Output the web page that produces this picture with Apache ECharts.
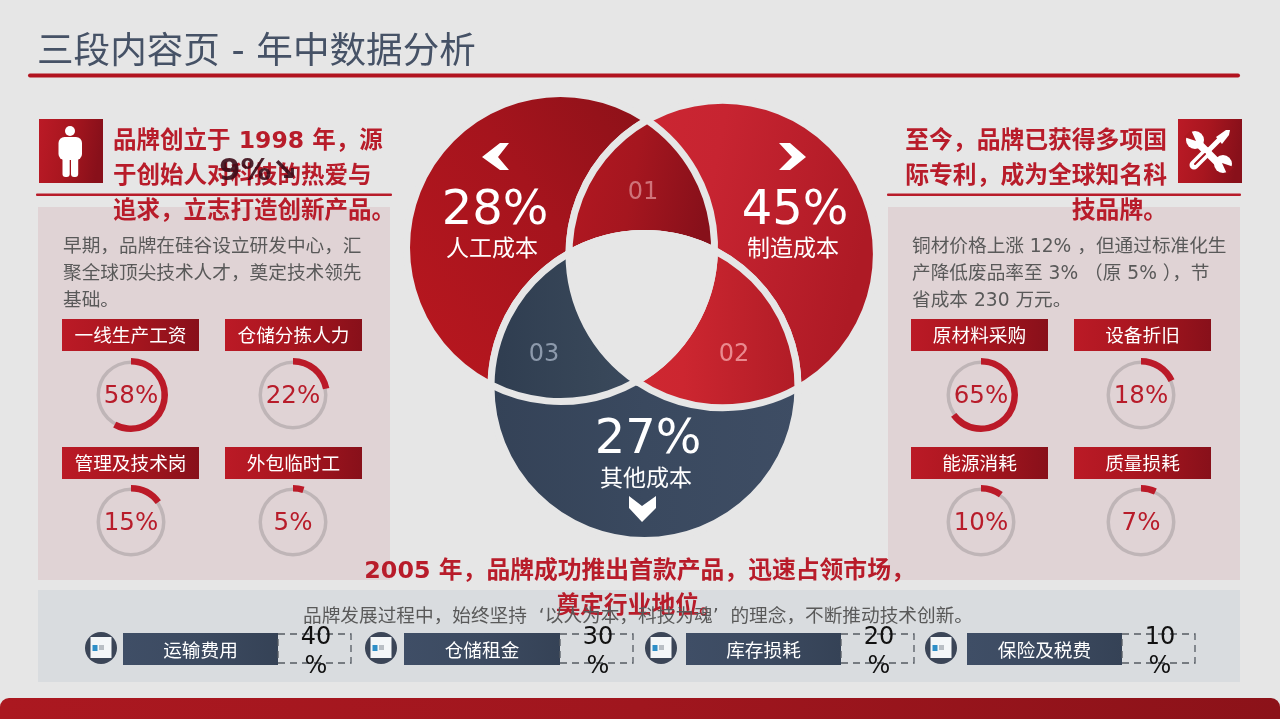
<!DOCTYPE html>
<html>
<head>
<meta charset="utf-8">
<style>
html, body { margin: 0; padding: 0; background: #e6e6e6; }
#chart { width: 1280px; height: 719px; }
</style>
<script src="https://cdn.jsdelivr.net/npm/echarts@6/dist/echarts.min.js"></script>
</head>
<body>
<div id="chart"></div>
<script>
'use strict';

var leftLabels = ['一线生产工资', '仓储分拣人力', '管理及技术岗', '外包临时工'];
var leftValues = [58, 22, 15, 5];
var rightLabels = ['原材料采购', '设备折旧', '能源消耗', '质量损耗'];
var rightValues = [65, 18, 10, 7];
var vennLabels = ['人工成本', '制造成本', '其他成本'];
var vennValues = [28, 45, 27];
var vennIndex = ['01', '02', '03'];
var bottomLabels = ['运输费用', '仓储租金', '库存损耗', '保险及税费'];
var bottomValues = [40, 30, 20, 10];

var FONT = '"DejaVu Sans", "Noto Sans CJK SC", sans-serif';
var BG = '#e6e6e6';
var RED_TEXT = '#b81c2a';
var GREY_TEXT = '#595959';

var myChart = echarts.init(document.getElementById('chart'), null, { renderer: 'canvas' });
var elements = [];
var series = [];

function grad(stops, x2, y2, y1) {
    var list = [];
    for (var i = 0; i < stops.length; i++) {
        list.push({ offset: i / (stops.length - 1), color: stops[i] });
    }
    return new echarts.graphic.LinearGradient(0, y1 || 0, x2 === undefined ? 1 : x2, y2 || 0, list);
}

function redBox() {
    return grad(['#bb1a26', '#a8161f', '#88101a'], 1, 0.15);
}

function text(x, y, str, size, color, align, weight, lineHeight) {
    elements.push({
        type: 'text',
        silent: true,
        z: 5,
        style: {
            x: x,
            // canvas middle sits a little high against the reference
            y: y + 1 + size * 0.08,
            text: str,
            fill: color,
            font: (weight || 'normal') + ' ' + size + 'px ' + FONT,
            align: align || 'left',
            verticalAlign: 'middle',
            lineHeight: lineHeight || size * 1.2
        }
    });
}

function rect(x, y, w, h, fill, r, z) {
    elements.push({
        type: 'rect',
        silent: true,
        z: z || 1,
        shape: { x: x, y: y, width: w, height: h, r: r || 0 },
        style: { fill: fill }
    });
}

function poly(points, fill, z) {
    elements.push({
        type: 'polygon',
        silent: true,
        z: z || 4,
        shape: { points: points },
        style: { fill: fill }
    });
}

function line(x1, y1, x2, y2, w, color, z) {
    elements.push({
        type: 'line',
        silent: true,
        z: z || 4,
        shape: { x1: x1, y1: y1, x2: x2, y2: y2 },
        style: { stroke: color, lineWidth: w, lineCap: 'round' }
    });
}

// page frame
rect(28, 73.5, 1212, 4, '#b2131f', 2);
rect(0, 698, 1280, 30, grad(['#ab1820', '#a0161e', '#8c1219']), 9);
rect(38, 207, 352, 373, '#e0d3d5');
rect(888, 207, 352, 373, '#e0d3d5');
rect(38, 590, 1202, 92, '#d9dcdf');
rect(36, 193.5, 356, 2.6, '#b81c2a', 1);
rect(887, 193.5, 354, 2.6, '#b81c2a', 1);

text(37, 50, '三段内容页 - 年中数据分析', 36.6, '#465266');

// venn
var circleL = { x: 560.5, y: 247.5, r: 154 };
var circleR = { x: 722.7, y: 254, r: 153.7 };
var circleB = { x: 644.5, y: 387, r: 153.5 };

function inside(p, c) {
    return Math.hypot(p.x - c.x, p.y - c.y) < c.r;
}

function cross(a, b) {
    var d = Math.hypot(b.x - a.x, b.y - a.y);
    var ux = (b.x - a.x) / d;
    var uy = (b.y - a.y) / d;
    var h = (d * d + a.r * a.r - b.r * b.r) / (2 * d);
    var k = Math.sqrt(a.r * a.r - h * h);
    var mx = a.x + ux * h;
    var my = a.y + uy * h;
    return {
        p: { x: mx - uy * k, y: my + ux * k },
        q: { x: mx + uy * k, y: my - ux * k }
    };
}

function arc(c, to, sweep) {
    return 'A' + c.r + ' ' + c.r + ' 0 0 ' + sweep + ' ' + to.x + ' ' + to.y;
}

function lensPath(a, b) {
    var i = cross(a, b);
    return 'M' + i.q.x + ' ' + i.q.y + arc(b, i.p, 0) + arc(a, i.q, 0) + 'Z';
}

function innerPoint(a, b, c) {
    var i = cross(a, b);
    return inside(i.p, c) ? i.p : i.q;
}

var shapeCount = 0;
function vennPath(path, fill, z) {
    var name = 'vennShape' + (shapeCount++);
    echarts.graphic.registerShape(name, echarts.graphic.extendPath(path, {}));
    elements.push({
        type: name,
        silent: true,
        z: z,
        style: { fill: fill, stroke: BG, lineWidth: 7 }
    });
}

function vennCircle(c, fill) {
    elements.push({
        type: 'circle',
        silent: true,
        z: 2,
        shape: { cx: c.x, cy: c.y, r: c.r },
        style: { fill: fill, stroke: BG, lineWidth: 7 }
    });
}

vennCircle(circleL, grad(['#b8171f', '#a5141d', '#851017'], 1, 0.1, 0.8));
vennCircle(circleR, grad(['#cf2833', '#c72431', '#ae1a25'], 1, 0.2));
vennCircle(circleB, grad(['#344257', '#3a495f', '#3e4d64'], 1, 0));
vennPath(lensPath(circleL, circleR), grad(['#b41822', '#a5161f', '#87101a'], 1, 0.1), 3);
vennPath(lensPath(circleR, circleB), grad(['#d42a33', '#cc2630', '#b01c26'], 1, 0), 3);
vennPath(lensPath(circleB, circleL), grad(['#2f3d50', '#384759', '#3f4f68'], 1, 0), 3);

var tl = innerPoint(circleR, circleB, circleL);
var tr = innerPoint(circleL, circleB, circleR);
var bt = innerPoint(circleL, circleR, circleB);
vennPath('M' + tl.x + ' ' + tl.y + arc(circleB, tr, 1) + arc(circleL, bt, 1) + arc(circleR, tl, 1) + 'Z', BG, 3);

var vennPos = [[495, 207, 492, 247], [795, 207, 793, 247], [648, 436, 646, 477]];
for (var v = 0; v < vennValues.length; v++) {
    text(vennPos[v][0], vennPos[v][1], vennValues[v] + '%', 48, '#ffffff', 'center');
    text(vennPos[v][2], vennPos[v][3], vennLabels[v], 23, '#ffffff', 'center');
}
var indexPos = [[643, 190], [734, 352], [544, 352]];
var indexColor = ['#cf7379', '#ea8a8f', '#8d9aac'];
for (var n = 0; n < vennIndex.length; n++) {
    text(indexPos[n][0], indexPos[n][1], vennIndex[n], 24, indexColor[n], 'center');
}

// chevrons
poly([[500, 143], [509, 143], [498, 157], [509, 170], [500, 170], [482, 157]], '#ffffff');
poly([[779, 143], [790, 143], [806, 157], [790, 170], [779, 170], [792, 157]], '#ffffff');
poly([[629, 496], [642, 506], [656, 496], [656, 508], [642, 522], [629, 508]], '#ffffff');

// person icon
rect(39, 119, 64, 64, redBox(), 0, 1);
elements.push({ type: 'circle', silent: true, z: 4, shape: { cx: 70, cy: 131, r: 5 }, style: { fill: '#fff' } });
rect(58.5, 137, 23.5, 23, '#ffffff', 6, 4);
rect(62.5, 150, 7.2, 27, '#ffffff', 3, 4);
rect(71, 150, 7.2, 27, '#ffffff', 3, 4);

// tools icon
rect(1178, 119, 64, 64, redBox(), 0, 1);
line(1194, 165, 1207, 152, 9, '#ffffff');
line(1195, 164, 1205, 154, 2, '#a8151f', 5);
line(1207, 152, 1221, 138, 5, '#ffffff');
poly([[1216, 137], [1226, 130], [1230, 130], [1229, 135], [1222, 144]], '#ffffff');
line(1198, 143, 1220, 165, 7.5, '#ffffff');
elements.push({ type: 'circle', silent: true, z: 4, shape: { cx: 1195, cy: 140, r: 9 }, style: { fill: '#fff' } });
elements.push({ type: 'circle', silent: true, z: 4, shape: { cx: 1223, cy: 164, r: 9 }, style: { fill: '#fff' } });
poly([[1196, 141], [1184, 137], [1191, 130]], '#ae161f', 5);
poly([[1222, 163], [1234, 167], [1227, 174]], '#9a131c', 5);

text(113, 174, '品牌创立于 1998 年，源\n于创始人对科技的热爱与\n追求，立志打造创新产品。', 23.5, RED_TEXT, 'left', 'bold', 35);
text(1167, 174, '至今，品牌已获得多项国\n际专利，成为全球知名科\n技品牌。', 23.8, RED_TEXT, 'right', 'bold', 35);
text(639.5, 586, '2005 年，品牌成功推出首款产品，迅速占领市场，\n奠定行业地位。', 23.8, RED_TEXT, 'center', 'bold', 35);

// stray overlay text lies across the red heading
text(219, 168, '9%↘', 31, 'rgba(60,12,24,0.9)', 'left', 'bold');

text(63, 272, '早期，品牌在硅谷设立研发中心，汇\n聚全球顶尖技术人才，奠定技术领先\n基础。', 18.67, GREY_TEXT, 'left', 'normal', 27);
text(912, 272, '铜材价格上涨 12% ，但通过标准化生\n产降低废品率至 3% （原 5% ），节\n省成本 230 万元。', 18.67, GREY_TEXT, 'left', 'normal', 27);
text(638, 615, '品牌发展过程中，始终坚持  ‘以人为本，科技为魂’  的理念，不断推动技术创新。', 18.67, GREY_TEXT, 'center');

// donut gauges
function gauge(cx, cy, label, value, boxX, boxY) {
    rect(boxX, boxY, 137, 32, redBox(), 0, 2);
    text(boxX + 68.5, boxY + 15.5, label, 18.67, '#ffffff', 'center');
    series.push({
        type: 'pie',
        silent: true,
        animation: false,
        center: [cx, cy],
        radius: [31, 34.5],
        label: { show: false },
        labelLine: { show: false },
        itemStyle: { color: '#bfb5b7' },
        data: [{ value: 100 }]
    });
    series.push({
        type: 'pie',
        silent: true,
        animation: false,
        z: 3,
        center: [cx, cy],
        radius: [30.5, 37],
        startAngle: 90,
        clockwise: true,
        label: { show: false },
        labelLine: { show: false },
        data: [
            {
                value: value,
                itemStyle: { color: '#bb1a28' },
                label: {
                    show: true,
                    position: 'center',
                    formatter: value + '%',
                    fontFamily: FONT,
                    fontSize: 24.5,
                    color: RED_TEXT,
                    offset: [0, 2]
                }
            },
            { value: 100 - value, itemStyle: { color: 'transparent' } }
        ]
    });
}

var gaugeX = [131, 293];
var gaugeXR = [981, 1141];
var gaugeY = [395, 522];
var boxXL = [62, 225];
var boxXR = [911, 1074];
var boxY = [319, 447];
for (var g = 0; g < 4; g++) {
    var col = g % 2;
    var row = g < 2 ? 0 : 1;
    gauge(gaugeX[col], gaugeY[row], leftLabels[g], leftValues[g], boxXL[col], boxY[row]);
    gauge(gaugeXR[col], gaugeY[row], rightLabels[g], rightValues[g], boxXR[col], boxY[row]);
}

// bottom row
var rowCircle = [101, 381, 661, 941];
var rowBar = [[123, 155], [404, 156], [686, 155], [967, 155]];
for (var b = 0; b < bottomLabels.length; b++) {
    var c = rowCircle[b];
    var bar = rowBar[b];
    elements.push({ type: 'circle', silent: true, z: 2, shape: { cx: c, cy: 648, r: 16 }, style: { fill: '#3b4557' } });
    rect(c - 10.5, 637, 21, 21, '#f4f6f8', 0, 3);
    rect(c - 8.5, 645, 5, 6, '#2f8fc8', 0, 4);
    rect(c - 2, 645, 5, 5, '#b9bec4', 0, 4);
    rect(bar[0], 633, bar[1], 32, grad(['#3f4e66', '#3c4a60', '#354256']), 0, 2);
    text(bar[0] + bar[1] / 2, 649.5, bottomLabels[b], 18.67, '#ffffff', 'center');
    elements.push({
        type: 'rect',
        silent: true,
        z: 2,
        shape: { x: bar[0] + bar[1], y: 634, width: 73, height: 29 },
        style: { fill: 'transparent', stroke: '#555b63', lineWidth: 1.3, lineDash: [7, 5] }
    });
    text(bar[0] + bar[1] + 38, 649, bottomValues[b] + '\n%', 24, '#111111', 'center', 'normal', 29);
}

myChart.setOption({
    backgroundColor: BG,
    animation: false,
    graphic: { elements: elements },
    series: series
});
</script>
</body>
</html>
